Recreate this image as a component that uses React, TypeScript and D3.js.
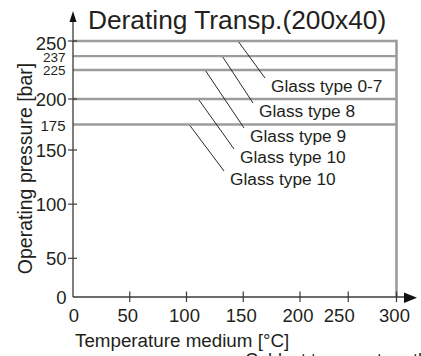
import React from "react";
import * as d3 from "d3";

const title = "Derating Transp.(200x40)";
const xTicks = [0, 50, 100, 150, 200, 250, 300];
const yTicksMain = [0, 50, 100, 150, 200, 250];
const yTicksSmall = [175, 225, 237];
const glassTypes = ["Glass type 0-7", "Glass type 8", "Glass type 9", "Glass type 10", "Glass type 10"];
const maxPressure = [250, 237, 225, 200, 175];
const leaderTemp = [146, 132, 117, 111, 103];
const xMax = 300;
const xLabel = "Temperature medium [°C]";
const yLabel = "Operating pressure [bar]";

const FONT = "'Liberation Sans', Arial, Helvetica, sans-serif";
const TXT = "#231f20";
const GRAY = "#9c9c9c";
const AX = "#3a3a3a";

export default function App() {
  const x = d3.scaleLinear().domain([0, 200, 300]).range([73, 300, 396.5]);
  const y = d3.scaleLinear().domain([0, 50, 150, 200, 250]).range([297, 258.3, 150, 99, 41]);

  const labelPos: [number, number][] = [
    [271, 92],
    [259, 117],
    [250, 142],
    [240, 163],
    [230, 185],
  ];

  const x0 = x(0);
  const y0 = y(0);
  const xEnd = x(xMax);

  return (
    <svg
      width={421}
      height={356}
      style={{ position: "absolute", left: 0, top: 0, background: "#fff" }}
      fontFamily={FONT}
    >
      <rect x={0} y={0} width={421} height={356} fill="#fff" />
      <text x={88} y={28.5} fontSize={26.3} fill={TXT}>
        {title}
      </text>

      {maxPressure.map((p, i) => (
        <line key={"g" + i} x1={x0} x2={xEnd} y1={y(p)} y2={y(p)} stroke={GRAY} strokeWidth={2.4} />
      ))}
      <line x1={xEnd} x2={xEnd} y1={y(250) - 1.2} y2={y0} stroke={GRAY} strokeWidth={2.6} />

      <line x1={x0} x2={x0} y1={y0} y2={21} stroke={AX} strokeWidth={1.3} />
      <path d={`M${x0},11 L${x0 - 3.5},22 L${x0 + 3.5},22 Z`} fill="#111" />
      <line x1={x0} x2={405} y1={y0} y2={y0} stroke={AX} strokeWidth={1.3} />
      <path d={`M417,${y0 + 0.8} L404,${y0 - 4.5} L404,${y0 + 6} Z`} fill="#111" />

      {yTicksMain.filter((t) => t > 0).map((t) => (
        <line key={"yt" + t} x1={68} x2={77} y1={y(t)} y2={y(t)} stroke={AX} strokeWidth={1.2} />
      ))}
      {yTicksMain.map((t) => (
        <text
          key={"yl" + t}
          x={66.5}
          y={y(t) + (t === 250 ? 2.5 : 0)}
          fontSize={18.5}
          textAnchor="end"
          dominantBaseline="central"
          fill={TXT}
        >
          {t}
        </text>
      ))}
      {yTicksSmall.map((t) => (
        <text
          key={"ys" + t}
          x={65.5}
          y={y(t) + (t === 237 ? 1.5 : 0.8)}
          fontSize={t === 175 ? 15 : 13.5}
          textAnchor="end"
          dominantBaseline="central"
          fill={TXT}
        >
          {t}
        </text>
      ))}

      {xTicks.filter((t) => t > 0).map((t) => (
        <line key={"xt" + t} x1={x(t)} x2={x(t)} y1={y0 - 5.5} y2={y0 + 5} stroke={AX} strokeWidth={1.2} />
      ))}
      {xTicks.map((t) => (
        <text
          key={"xl" + t}
          x={x(t) - (t === 250 ? 9 : t === 0 ? -1 : 2)}
          y={322}
          fontSize={18.5}
          textAnchor="middle"
          fill={TXT}
        >
          {t}
        </text>
      ))}

      <text x={75} y={346.5} fontSize={18.8} fill={TXT}>
        {xLabel}
      </text>
      <text transform={`translate(32,168.5) rotate(-90)`} fontSize={19.5} textAnchor="middle" fill={TXT}>
        {yLabel}
      </text>

      {glassTypes.map((g, i) => {
        const [lx, ly] = labelPos[i];
        return (
          <g key={"lab" + i}>
            <line
              x1={x(leaderTemp[i])}
              y1={y(maxPressure[i]) + 1}
              x2={lx - 6}
              y2={ly - 14}
              stroke="#111"
              strokeWidth={0.9}
            />
            <text x={lx} y={ly} fontSize={17.3} fill={TXT}>
              {g}
            </text>
          </g>
        );
      })}

      <text x={245} y={366} fontSize={18} fill={TXT}>
        Coldest temperature the
      </text>
    </svg>
  );
}
